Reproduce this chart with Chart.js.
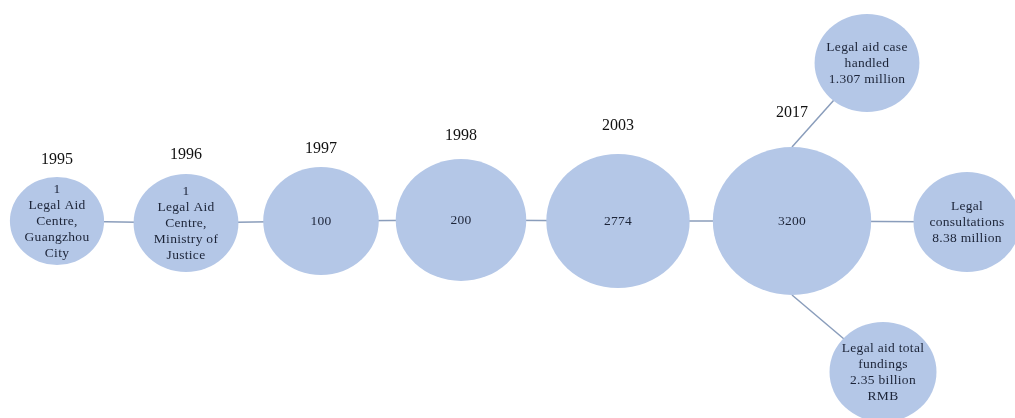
<!DOCTYPE html>
<html>
<head>
<meta charset="utf-8">
<script src="https://cdn.jsdelivr.net/npm/chart.js@4.4.0/dist/chart.umd.min.js"></script>
<style>
  html, body { margin: 0; padding: 0; background: #ffffff; }
  #wrap { width: 1015px; height: 418px; position: relative; }
</style>
</head>
<body>
<div id="wrap"><canvas id="chart"></canvas></div>
<script>
// timeline: number of legal aid centres per year
const years = ["1995", "1996", "1997", "1998", "2003", "2017"];
const centres = [1, 1, 100, 200, 2774, 3200];
const centreNotes = [
  ["Legal Aid", "Centre,", "Guangzhou", "City"],
  ["Legal Aid", "Centre,", "Ministry of", "Justice"],
  [], [], [], []
];
const nodeX = [57, 186, 321, 461, 618, 792];
const nodeY = [221, 223, 221, 220, 221, 221];
const nodeR = [44, 49, 54, 61, 67, 74];
const yearY = [160, 155, 149, 136, 126, 113];

// 2017 outcomes
const outcomes = [
  ["Legal aid case", "handled", "1.307 million"],
  ["Legal", "consultations", "8.38 million"],
  ["Legal aid total", "fundings", "2.35 billion", "RMB"]
];
const outcomeX = [867, 967, 883];
const outcomeY = [63, 222, 372];
const outcomeR = [49, 50, 50];
const outcomeSide = [-1, 0, 1]; // where the link leaves the 2017 circle

const fill = "#b4c7e7";
const lineColor = "#8a9dbb";
const stretch = 1.07; // bubbles are a little wider than tall

const last = years.length - 1;

const bubbles = [];
years.forEach((y, i) => {
  bubbles.push({ x: nodeX[i], y: nodeY[i], r: nodeR[i], text: [String(centres[i])].concat(centreNotes[i]), year: y, yearY: yearY[i] });
});
outcomes.forEach((t, i) => {
  bubbles.push({ x: outcomeX[i], y: outcomeY[i], r: outcomeR[i], text: t });
});

const timelineLine = years.map((y, i) => ({ x: nodeX[i], y: nodeY[i] }));
timelineLine.push({ x: outcomeX[1], y: outcomeY[1] });

const branchTop = [
  { x: nodeX[last], y: nodeY[last] + outcomeSide[0] * nodeR[last] },
  { x: outcomeX[0], y: outcomeY[0] }
];
const branchBottom = [
  { x: nodeX[last], y: nodeY[last] + outcomeSide[2] * nodeR[last] },
  { x: outcomeX[2], y: outcomeY[2] }
];

const lineSet = (data) => ({
  type: "line",
  data: data,
  borderColor: lineColor,
  borderWidth: 1.5,
  pointRadius: 0,
  fill: false,
  order: 2,
  clip: false
});

// draw the bubble elements slightly stretched sideways
const ovalPlugin = {
  id: "oval",
  beforeDatasetDraw(chart, args) {
    if (args.index !== 0) return;
    const ctx = chart.ctx;
    args.meta.data.forEach((el) => {
      ctx.save();
      ctx.translate(el.x, el.y);
      ctx.scale(stretch, 1);
      ctx.translate(-el.x, -el.y);
      el.draw(ctx);
      ctx.restore();
    });
    return false;
  }
};

// text inside bubbles and year labels
const labelPlugin = {
  id: "labels",
  afterDatasetsDraw(chart) {
    const ctx = chart.ctx;
    const xs = chart.scales.x;
    const ys = chart.scales.y;
    const meta = chart.getDatasetMeta(0);
    ctx.save();
    ctx.textAlign = "center";
    ctx.textBaseline = "middle";
    meta.data.forEach((el, i) => {
      const b = bubbles[i];
      ctx.fillStyle = "#1c2438";
      ctx.font = "13.5px 'Liberation Serif', 'Times New Roman', serif";
      ctx.letterSpacing = "0.3px";
      const lh = 16;
      const top = el.y - (b.text.length - 1) * lh / 2;
      b.text.forEach((line, k) => ctx.fillText(line, el.x, top + k * lh));
      if (b.year) {
        ctx.fillStyle = "#111111";
        ctx.letterSpacing = "0px";
        ctx.font = "16px 'Liberation Serif', 'Times New Roman', serif";
        ctx.fillText(b.year, xs.getPixelForValue(b.x), ys.getPixelForValue(b.yearY));
      }
    });
    ctx.restore();
  }
};

const chart = document.querySelector("#chart").getContext("2d");

new Chart(chart, {
  type: "bubble",
  data: {
    datasets: [
      {
        data: bubbles,
        backgroundColor: fill,
        borderColor: fill,
        borderWidth: 0,
        hoverRadius: 0,
        order: 1,
        clip: false
      },
      lineSet(timelineLine),
      lineSet(branchTop),
      lineSet(branchBottom)
    ]
  },
  options: {
    responsive: true,
    maintainAspectRatio: false,
    animation: false,
    layout: { padding: 0, autoPadding: false },
    plugins: {
      legend: { display: false },
      tooltip: { enabled: false }
    },
    scales: {
      x: { type: "linear", min: 0, max: 1015, display: false },
      y: { type: "linear", min: 0, max: 418, reverse: true, display: false }
    }
  },
  plugins: [ovalPlugin, labelPlugin]
});
</script>
</body>
</html>
